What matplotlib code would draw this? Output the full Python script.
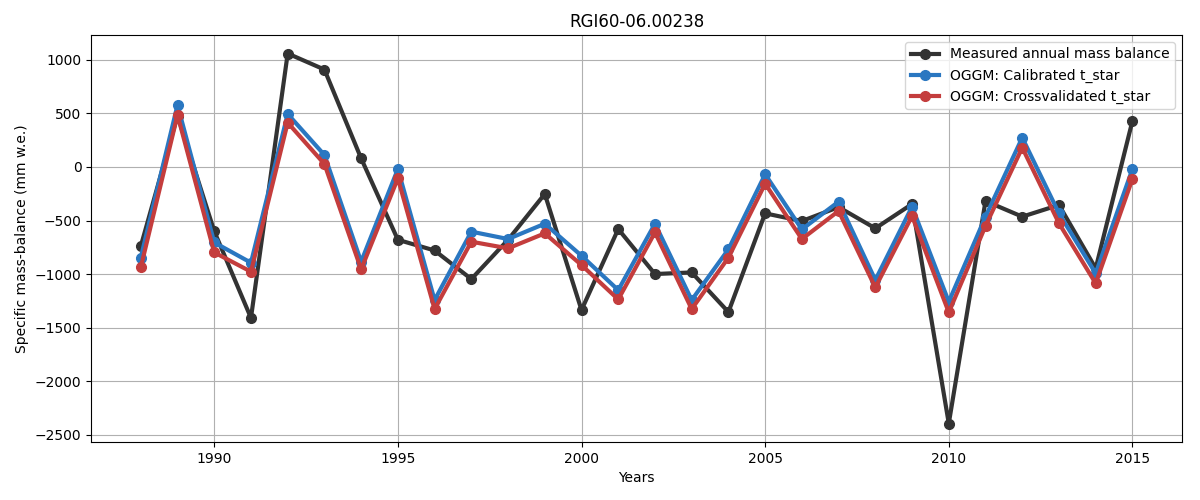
import matplotlib
matplotlib.use('Agg')
import matplotlib.pyplot as plt

years = list(range(1988, 2016))

measured = [-740, 480, -600, -1410, 1060, 910, 80, -680, -780, -1047,
            -680, -252, -1336, -580, -1000, -985, -1355, -433, -505, -375,
            -573, -346, -2396, -318, -464, -355, -947, 430]
calibrated = [-847, 579, -705, -894, 495, 112, -885, -19, -1243, -604,
              -673, -530, -829, -1150, -530, -1243, -769, -68, -583, -324,
              -1056, -371, -1259, -464, 274, -433, -994, -19]
crossval = [-938, 486, -798, -978, 414, 28, -956, -106, -1327, -698,
            -760, -620, -916, -1237, -611, -1327, -847, -156, -673, -411,
            -1125, -458, -1358, -551, 181, -526, -1087, -112]

fig, ax = plt.subplots(figsize=(12, 5), dpi=100)

ax.plot(years, measured, '-o', color='#333333', lw=3, ms=7, label='Measured annual mass balance')
ax.plot(years, calibrated, '-o', color='#2a77c1', lw=3, ms=7, label='OGGM: Calibrated t_star')
ax.plot(years, crossval, '-o', color='#c43d3d', lw=3, ms=7, label='OGGM: Crossvalidated t_star')

ax.set_title('RGI60-06.00238')
ax.set_xlabel('Years')
ax.set_ylabel('Specific mass-balance (mm w.e.)')
ax.legend(loc='upper right')
ax.grid()

plt.subplots_adjust(left=0.076, right=0.985, top=0.93, bottom=0.116)
plt.savefig('out.png')
